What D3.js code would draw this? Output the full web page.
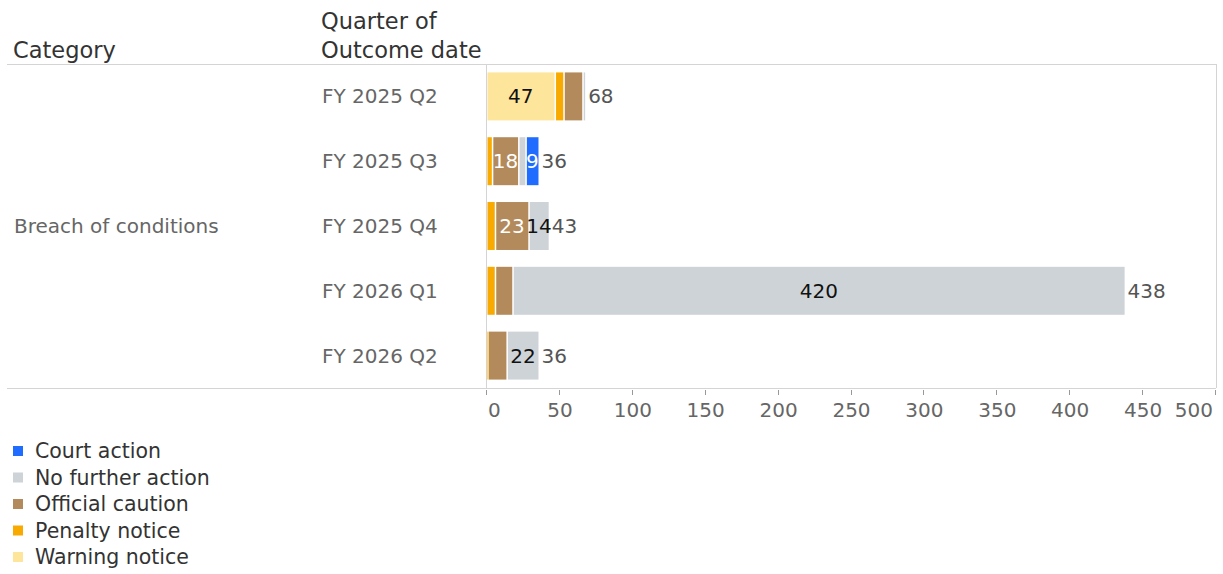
<!DOCTYPE html>
<meta charset="utf-8">
<style>
body { margin: 0; background: #fff; font-family: 'DejaVu Sans', sans-serif; }
text { font-family: 'DejaVu Sans', sans-serif; }
.header { font-size: 22.5px; fill: #333; }
.row-label { font-size: 20px; fill: #666; }
.tick-label { font-size: 20px; fill: #666; }
.total-label { font-size: 20px; fill: #555; }
.seg-label { font-size: 20px; }
.legend text { font-size: 20.5px; fill: #333; }
.frame { stroke: #d4d4d4; stroke-width: 1px; shape-rendering: crispEdges; }
</style>
<svg width="1223" height="574"></svg>
<script src="https://d3js.org/d3.v7.min.js"></script>
<script>
// data
var category = "Breach of conditions";
var quarters = ["FY 2025 Q2", "FY 2025 Q3", "FY 2025 Q4", "FY 2026 Q1", "FY 2026 Q2"];
var warningNotice = [47, 0, 0, 0, 0];
var penaltyNotice = [6, 4, 6, 6, 1];
var officialCaution = [13, 18, 23, 12, 13];
var noFurtherAction = [2, 5, 14, 420, 22];
var courtAction = [0, 9, 0, 0, 0];
var xTicks = [0, 50, 100, 150, 200, 250, 300, 350, 400, 450, 500];

// stacking order, left to right
var seriesNames = ["Warning notice", "Penalty notice", "Official caution", "No further action", "Court action"];
var seriesValues = [warningNotice, penaltyNotice, officialCaution, noFurtherAction, courtAction];
var legendNames = ["Court action", "No further action", "Official caution", "Penalty notice", "Warning notice"];

var colour = d3.scaleOrdinal()
    .domain(["Court action", "No further action", "Official caution", "Penalty notice", "Warning notice"])
    .range(["#1f6cff", "#ced3d8", "#b38a5c", "#f9aa00", "#fde59b"]);
var darkText = {"Warning notice": true, "No further action": true, "Penalty notice": true};

var rows = quarters.map(function(q, i) {
  var r = {quarter: q};
  seriesNames.forEach(function(s, j) { r[s] = seriesValues[j][i]; });
  return r;
});

var svg = d3.select("svg");
var plotLeft = 487, plotRight = 1216, plotTop = 64, plotBottom = 388;

var x = d3.scaleLinear().domain([0, 500]).range([plotLeft, plotRight]);
var y = d3.scaleBand().domain(quarters).range([plotTop, plotBottom]).paddingInner(0.26).paddingOuter(0.13);

// frame lines
svg.append("line").attr("class", "frame").attr("x1", 7).attr("x2", plotRight).attr("y1", plotTop + 0.5).attr("y2", plotTop + 0.5);
svg.append("line").attr("class", "frame").attr("x1", 7).attr("x2", plotRight).attr("y1", plotBottom + 0.5).attr("y2", plotBottom + 0.5);
svg.append("line").attr("class", "frame").attr("x1", plotLeft - 0.5).attr("x2", plotLeft - 0.5).attr("y1", plotTop).attr("y2", plotBottom);
svg.append("line").attr("class", "frame").attr("x1", plotRight + 0.5).attr("x2", plotRight + 0.5).attr("y1", plotTop).attr("y2", plotBottom);

// headers
svg.append("text").attr("class", "header").attr("x", 13).attr("y", 58).text("Category");
svg.append("text").attr("class", "header").attr("x", 321).attr("y", 29).text("Quarter of");
svg.append("text").attr("class", "header").attr("x", 321).attr("y", 58).text("Outcome date");

svg.append("text").attr("class", "row-label")
    .attr("x", 14).attr("y", (plotTop + plotBottom) / 2).attr("dy", "0.35em")
    .text(category);

svg.selectAll(".quarter-label")
    .data(quarters)
  .enter().append("text")
    .attr("class", "row-label quarter-label")
    .attr("x", 322)
    .attr("y", function(d) { return y(d) + y.bandwidth() / 2; })
    .attr("dy", "0.35em")
    .text(function(d) { return d; });

// bars
var stacked = d3.stack().keys(seriesNames)(rows);

var layer = svg.append("g").selectAll("g")
    .data(stacked)
  .enter().append("g")
    .attr("fill", function(d) { return colour(d.key); });

layer.selectAll("rect")
    .data(function(d) { return d.filter(function(p) { return p[1] > p[0]; }); })
  .enter().append("rect")
    .attr("x", function(d) { return x(d[0]) + 0.5; })
    .attr("y", function(d) { return y(d.data.quarter); })
    .attr("width", function(d) { return Math.max(1, x(d[1]) - x(d[0]) - 1.5); })
    .attr("height", y.bandwidth());

// segment labels, only where they roughly fit
stacked.forEach(function(s) {
  s.forEach(function(p) {
    var v = p[1] - p[0];
    if (v <= 0) return;
    var w = x(p[1]) - x(p[0]);
    var t = svg.append("text")
        .attr("class", "seg-label")
        .attr("x", (x(p[0]) + x(p[1])) / 2 - 0.5)
        .attr("y", y(p.data.quarter) + y.bandwidth() / 2)
        .attr("dy", "0.35em")
        .attr("text-anchor", "middle")
        .attr("fill", darkText[s.key] ? "#111" : "#fff")
        .text(v);
    if (w < 12 || t.node().getComputedTextLength() > w + 5.5) t.remove();
  });
});

// totals
svg.selectAll(".total-label")
    .data(rows)
  .enter().append("text")
    .attr("class", "total-label")
    .attr("x", function(d) { return x(d3.sum(seriesNames, function(s) { return d[s]; })) + 2; })
    .attr("y", function(d) { return y(d.quarter) + y.bandwidth() / 2; })
    .attr("dy", "0.35em")
    .text(function(d) { return d3.sum(seriesNames, function(s) { return d[s]; }); });

// x axis
var axis = svg.append("g").attr("class", "x-axis");
axis.selectAll("line")
    .data(xTicks)
  .enter().append("line")
    .attr("x1", function(d) { return Math.round(x(d)) - 0.5; })
    .attr("x2", function(d) { return Math.round(x(d)) - 0.5; })
    .attr("y1", plotBottom + 2).attr("y2", plotBottom + 7)
    .attr("stroke", "#999");
axis.selectAll("text")
    .data(xTicks)
  .enter().append("text")
    .attr("class", "tick-label")
    .attr("x", function(d, i) { return i === 0 ? x(d) + 1 : i === xTicks.length - 1 ? x(d) - 3 : x(d); })
    .attr("y", 410)
    .attr("dy", "0.35em")
    .attr("text-anchor", function(d, i) { return i === 0 ? "start" : i === xTicks.length - 1 ? "end" : "middle"; })
    .text(function(d) { return d; });

// legend
var legend = svg.append("g").attr("class", "legend");
var lg = legend.selectAll("g")
    .data(legendNames)
  .enter().append("g")
    .attr("transform", function(d, i) { return "translate(13," + (451 + i * 26.5) + ")"; });
lg.append("rect")
    .attr("x", 0).attr("y", -5)
    .attr("width", 10).attr("height", 10)
    .attr("fill", function(d) { return colour(d); });
lg.append("text")
    .attr("x", 22).attr("dy", "0.35em")
    .text(function(d) { return d; });
</script>
